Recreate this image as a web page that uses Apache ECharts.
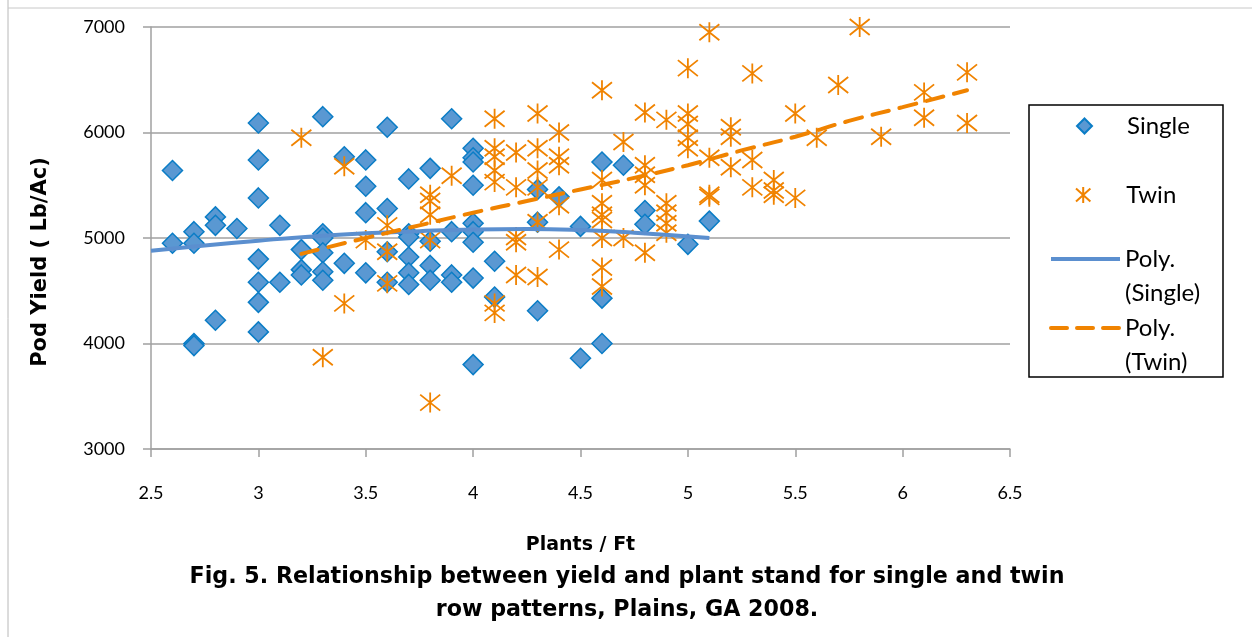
<!DOCTYPE html>
<html>
<head>
<meta charset="utf-8">
<script src="https://cdn.jsdelivr.net/npm/echarts@6/dist/echarts.min.js"></script>
<style>
  html, body { margin: 0; padding: 0; background: #fff; }
  #YieldChart { width: 1252px; height: 637px; }
</style>
</head>
<body>
<div id="YieldChart"></div>
<script>
// Single row pattern: plants per ft and pod yield
const singleX = [
  2.6, 2.6,
  2.7, 2.7, 2.7, 2.7,
  2.8, 2.8, 2.8,
  2.9,
  3.0, 3.0, 3.0, 3.0, 3.0, 3.0, 3.0,
  3.1, 3.1,
  3.2, 3.2, 3.2,
  3.3, 3.3, 3.3, 3.3, 3.3, 3.3,
  3.4, 3.4,
  3.5, 3.5, 3.5, 3.5,
  3.6, 3.6, 3.6, 3.6,
  3.7, 3.7, 3.7, 3.7, 3.7, 3.7,
  3.8, 3.8, 3.8, 3.8,
  3.9, 3.9, 3.9, 3.9,
  4.0, 4.0, 4.0, 4.0, 4.0, 4.0, 4.0, 4.0, 4.0,
  4.1, 4.1,
  4.3, 4.3, 4.3,
  4.4,
  4.5, 4.5,
  4.6, 4.6, 4.6,
  4.7,
  4.8, 4.8,
  5.0,
  5.1
];
const singleY = [
  5640, 4950,
  5060, 4950, 4000, 3980,
  5200, 5120, 4220,
  5090,
  6090, 5740, 5380, 4800, 4580, 4390, 4110,
  5120, 4580,
  4890, 4700, 4650,
  6150, 5040, 5000, 4860, 4680, 4600,
  5770, 4760,
  5740, 5490, 5240, 4670,
  6050, 5280, 4870, 4580,
  5560, 5040, 5010, 4820, 4670, 4560,
  5660, 4970, 4740, 4600,
  6130, 5060, 4650, 4580,
  5850, 5760, 5720, 5500, 5140, 5060, 4960, 4620, 3800,
  4780, 4440,
  5460, 5150, 4310,
  5390,
  5110, 3860,
  5720, 4430, 4000,
  5690,
  5260, 5130,
  4940,
  5160
];

// Twin row pattern
const twinX = [
  3.2,
  3.3,
  3.4, 3.4,
  3.5,
  3.6, 3.6, 3.6,
  3.8, 3.8, 3.8, 3.8, 3.8,
  3.9,
  4.1, 4.1, 4.1, 4.1, 4.1, 4.1, 4.1,
  4.2, 4.2, 4.2, 4.2, 4.2,
  4.3, 4.3, 4.3, 4.3, 4.3, 4.3,
  4.4, 4.4, 4.4, 4.4, 4.4,
  4.6, 4.6, 4.6, 4.6, 4.6, 4.6, 4.6, 4.6,
  4.7, 4.7,
  4.8, 4.8, 4.8, 4.8, 4.8,
  4.9, 4.9, 4.9, 4.9, 4.9,
  5.0, 5.0, 5.0, 5.0, 5.0,
  5.1, 5.1, 5.1, 5.1,
  5.2, 5.2, 5.2,
  5.3, 5.3, 5.3,
  5.4, 5.4, 5.4,
  5.5, 5.5,
  5.6,
  5.7,
  5.8,
  5.9,
  6.1, 6.1,
  6.3, 6.3
];
const twinY = [
  5950,
  3870,
  5680, 4380,
  4980,
  5120, 4870, 4570,
  5410, 5350, 5220, 4980, 3440,
  5590,
  6130, 5850, 5770, 5640, 5530, 4380, 4290,
  5810, 5480, 5010, 4960, 4650,
  6180, 5850, 5640, 5480, 5150, 4630,
  6000, 5770, 5690, 5310, 4890,
  6400, 5550, 5330, 5220, 5170, 5000, 4720, 4540,
  5910, 5000,
  6190, 5690, 5600, 5500, 4860,
  6120, 5330, 5240, 5140, 5050,
  6610, 6180, 6080, 5950, 5850,
  6950, 5760, 5410, 5390,
  6050, 5960, 5670,
  6560, 5740, 5480,
  5550, 5450, 5410,
  6180, 5380,
  5950,
  6450,
  7000,
  5960,
  6380, 6140,
  6570, 6090
];

// polynomial trend lines
const singleTrendX = [2.5, 2.75, 3.0, 3.25, 3.5, 3.75, 4.0, 4.25, 4.5, 4.75, 5.1];
const singleTrendY = [4880, 4930, 4975, 5015, 5045, 5065, 5080, 5085, 5075, 5050, 5000];
const twinTrendX = [3.2, 3.5, 3.75, 4.0, 4.25, 4.5, 4.75, 5.0, 5.25, 5.5, 5.75, 6.0, 6.3];
const twinTrendY = [4850, 5000, 5120, 5240, 5350, 5460, 5570, 5690, 5830, 5960, 6110, 6240, 6400];

const xTicks = { min: 2.5, max: 6.5, interval: 0.5 };
const yTicks = { min: 3000, max: 7000, interval: 1000 };

const zip = (xs, ys) => xs.map((x, i) => [x, ys[i]]);

const diamondIcon = 'path://M10,0L20,10L10,20L0,10Z';
const starIcon = 'path://M10,0L10,20M1,2L19,18M1,18L19,2';
const blue = '#5a98d2';
const trendBlue = '#5b8fcf';
const orange = '#f08300';
const gridGray = '#a0a0a0';
const labelFont = 'Lato, "Noto Sans", sans-serif';
const nameFont = '"DejaVu Sans", sans-serif';

const myChart = echarts.init(document.getElementById('YieldChart'));

// legend text: pushed right of the small marker icons
const markerLegendText = {
  fontFamily: labelFont,
  fontSize: 24,
  lineHeight: 30,
  color: '#000',
  rich: {
    t: { fontFamily: labelFont, fontSize: 24, lineHeight: 30, color: '#000', padding: [0, 0, 0, 30] }
  }
};
const lineLegendText = {
  fontFamily: labelFont,
  fontSize: 24,
  lineHeight: 34,
  color: '#000'
};

const option = {
  animation: false,
  title: {
    text: 'Fig. 5. Relationship between yield and plant stand for single and twin\nrow patterns, Plains, GA 2008.',
    left: 622,
    textAlign: 'center',
    top: 556,
    textStyle: {
      fontFamily: nameFont,
      fontWeight: 'bold',
      fontSize: 22.2,
      lineHeight: 33,
      color: '#000'
    }
  },
  grid: {
    left: 151,
    right: 242,
    top: 27,
    bottom: 188
  },
  xAxis: {
    type: 'value',
    min: xTicks.min,
    max: xTicks.max,
    interval: xTicks.interval,
    name: 'Plants / Ft',
    nameLocation: 'middle',
    nameGap: 87,
    nameTextStyle: {
      fontFamily: nameFont,
      fontWeight: 'bold',
      fontSize: 19,
      color: '#000',
      verticalAlign: 'top'
    },
    axisLine: { show: true, lineStyle: { color: gridGray, width: 1.5 } },
    axisTick: { show: true, length: 8, lineStyle: { color: gridGray, width: 1.5 } },
    axisLabel: {
      margin: 35,
      fontFamily: labelFont,
      fontSize: 18,
      color: '#000'
    },
    splitLine: { show: false }
  },
  yAxis: {
    type: 'value',
    min: yTicks.min,
    max: yTicks.max,
    interval: yTicks.interval,
    name: 'Pod Yield ( Lb/Ac)',
    nameLocation: 'middle',
    nameGap: 100,
    nameTextStyle: {
      fontFamily: nameFont,
      fontWeight: 'bold',
      fontSize: 21,
      color: '#000',
      padding: [0, 48, 0, 0]
    },
    axisLine: { show: true, lineStyle: { color: gridGray, width: 1.5 } },
    axisTick: { show: true, length: 8, lineStyle: { color: gridGray, width: 1.5 } },
    axisLabel: {
      margin: 26,
      fontFamily: labelFont,
      fontSize: 18,
      color: '#000',
      formatter: (v) => String(v)
    },
    splitLine: { show: true, lineStyle: { color: gridGray, width: 1.5 } }
  },
  legend: [
    {
      data: [{ name: 'Single', icon: diamondIcon }],
      left: 1076, top: 111, padding: 0,
      itemWidth: 15, itemHeight: 15,
      formatter: (name) => '{t|' + name + '}',
      textStyle: markerLegendText
    },
    {
      data: [{ name: 'Twin', icon: starIcon }],
      left: 1075, top: 180, padding: 0,
      itemWidth: 16, itemHeight: 16,
      formatter: (name) => '{t|' + name + '}',
      textStyle: markerLegendText
    },
    {
      data: ['Poly. (Single)'],
      left: 1049, top: 208, padding: 0,
      itemWidth: 69, itemHeight: 14,
      itemStyle: { opacity: 0 },
      lineStyle: { width: 4 },
      formatter: (name) => '\n' + name.replace(' ', '\n'),
      textStyle: lineLegendText
    },
    {
      data: ['Poly. (Twin)'],
      left: 1049, top: 277, padding: 0,
      itemWidth: 69, itemHeight: 14,
      itemStyle: { opacity: 0 },
      lineStyle: { width: 4, type: [16, 10], cap: 'round' },
      formatter: (name) => '\n' + name.replace(' ', '\n'),
      textStyle: lineLegendText
    }
  ],
  graphic: [
    {
      type: 'rect',
      shape: { x: 1029, y: 105, width: 194, height: 272 },
      style: { fill: 'none', stroke: '#000', lineWidth: 1.5 },
      silent: true
    },
    {
      type: 'line',
      shape: { x1: 8, y1: 0, x2: 8, y2: 637 },
      style: { stroke: '#b8b8b8', lineWidth: 1 },
      silent: true
    },
    {
      type: 'line',
      shape: { x1: 8, y1: 8, x2: 1252, y2: 8 },
      style: { stroke: '#c8c8c8', lineWidth: 1 },
      silent: true
    }
  ],
  series: [
    {
      name: 'Single',
      type: 'scatter',
      symbol: 'diamond',
      symbolSize: 20,
      z: 3,
      itemStyle: { color: blue, borderColor: '#0b7dc6', borderWidth: 1.5, opacity: 1 },
      data: zip(singleX, singleY)
    },
    {
      name: 'Twin',
      type: 'scatter',
      symbol: starIcon,
      symbolSize: 20,
      z: 4,
      itemStyle: { color: orange, borderColor: orange, borderWidth: 1.8, opacity: 1 },
      data: zip(twinX, twinY)
    },
    {
      name: 'Poly. (Single)',
      type: 'line',
      smooth: true,
      symbol: 'none',
      z: 5,
      lineStyle: { color: trendBlue, width: 4 },
      itemStyle: { color: trendBlue },
      data: zip(singleTrendX, singleTrendY)
    },
    {
      name: 'Poly. (Twin)',
      type: 'line',
      smooth: true,
      symbol: 'none',
      z: 5,
      lineStyle: { color: orange, width: 4, type: [17, 11], cap: 'round' },
      itemStyle: { color: orange },
      data: zip(twinTrendX, twinTrendY)
    }
  ]
};

myChart.setOption(option);

window.addEventListener('resize', () => {
  myChart && myChart.resize();
});
</script>
</body>
</html>
